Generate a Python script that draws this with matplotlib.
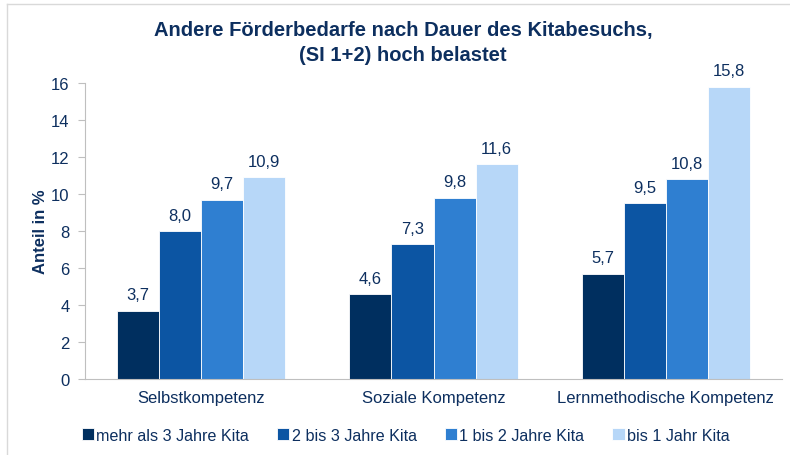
import matplotlib.pyplot as plt
import numpy as np
from matplotlib.lines import Line2D

plt.rcParams['font.family'] = ['Liberation Sans', 'DejaVu Sans']

categories = ['Selbstkompetenz', 'Soziale Kompetenz', 'Lernmethodische Kompetenz']
series = ['mehr als 3 Jahre Kita', '2 bis 3 Jahre Kita', '1 bis 2 Jahre Kita', 'bis 1 Jahr Kita']
values = [
    [3.7, 4.6, 5.7],
    [8.0, 7.3, 9.5],
    [9.7, 9.8, 10.8],
    [10.9, 11.6, 15.8],
]
colors = ['#002f5f', '#0c55a3', '#2f7fd1', '#b7d7f8']
txt = '#0d2f5f'

fig = plt.figure(figsize=(7.9, 4.56), dpi=100)
ax = fig.add_axes([85/790, 1-380/456, 697/790, 296/456])

x = np.arange(len(categories)) + 0.5
w = 0.181
for i, (name, vals) in enumerate(zip(series, values)):
    pos = x + (i - 1.5) * w
    ax.bar(pos, vals, width=w, color=colors[i], label=name, edgecolor='white', linewidth=0.6)
    for px, v in zip(pos, vals):
        ax.text(px, v + 0.45, ('%.1f' % v).replace('.', ','), ha='center', va='bottom',
                fontsize=12, color=txt)

ax.set_xlim(0, 3)
ax.set_ylim(0, 16)
ax.set_yticks(range(0, 17, 2))
ax.set_xticks(x)
ax.set_xticklabels(categories, fontsize=12, color=txt)
ax.tick_params(axis='x', length=0, pad=8)
ax.tick_params(axis='y', labelsize=12, labelcolor=txt, color='#bfbfbf', length=5, pad=6)
for s in ['top', 'right']:
    ax.spines[s].set_visible(False)
for s in ['left', 'bottom']:
    ax.spines[s].set_color('#bfbfbf')
ax.set_ylabel('Anteil in %', fontsize=12, fontweight='bold', color=txt, labelpad=2)

fig.text(0.51, 1-43/456, 'Andere Förderbedarfe nach Dauer des Kitabesuchs,\n(SI 1+2) hoch belastet',
         ha='center', va='center', fontsize=14.5, fontweight='bold', color=txt, linespacing=1.45)

leg = ax.legend(loc='center', bbox_to_anchor=(0.46, -0.19), ncol=4, frameon=False,
                fontsize=11.6, handlelength=0.75, handleheight=0.75, handletextpad=0.15,
                columnspacing=1.75)
for t in leg.get_texts():
    t.set_color(txt)

fig.add_artist(Line2D([7/790, 7/790], [0, 1-5/456], color='#d9d9d9', lw=1))
fig.add_artist(Line2D([7/790, 1], [1-5/456, 1-5/456], color='#d9d9d9', lw=1))

fig.savefig('out.png', dpi=100)
